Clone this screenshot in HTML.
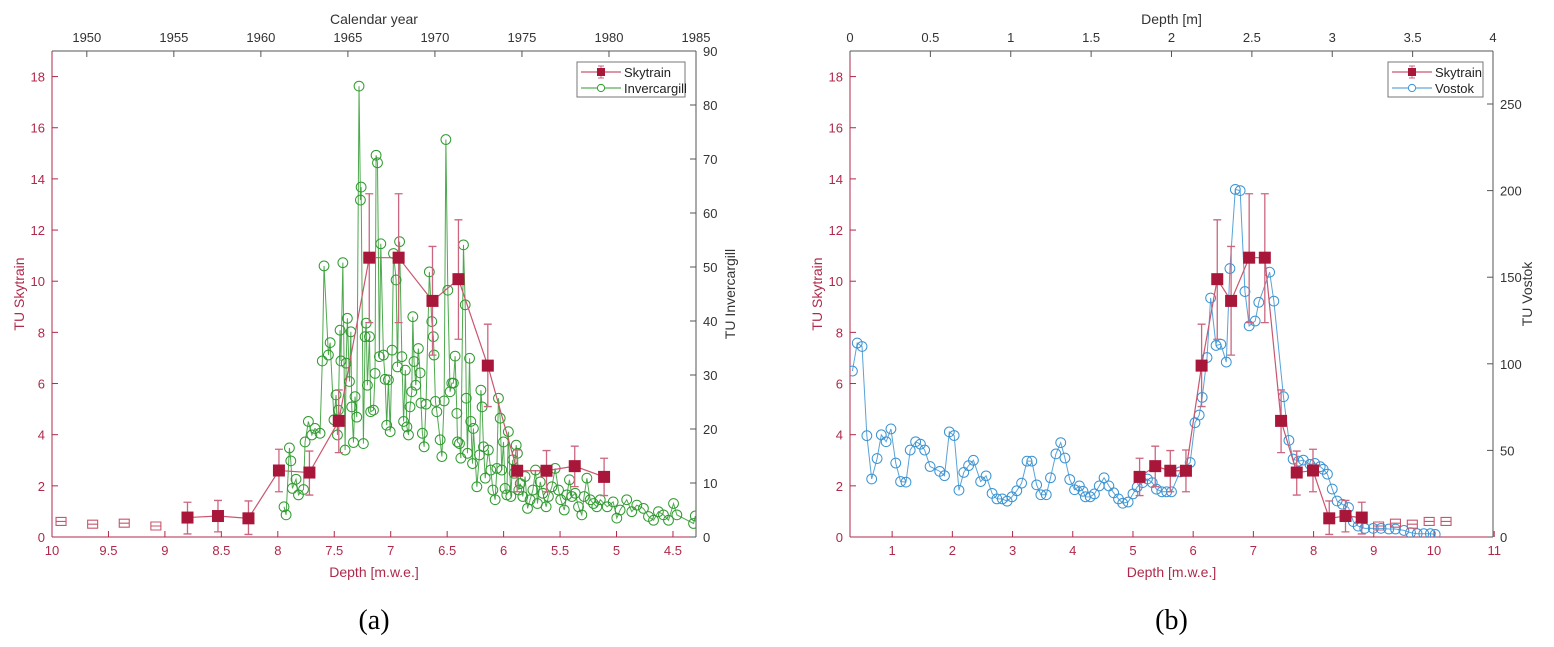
<!DOCTYPE html>
<html><head><meta charset="utf-8">
<style>
html,body{margin:0;padding:0;background:#fff;}
svg{display:block;}
text{font-family:"Liberation Sans",sans-serif;}
</style></head>
<body>
<svg id="chart" width="1554" height="647" viewBox="0 0 1554 647" xmlns="http://www.w3.org/2000/svg"></svg>
<script>
// ---------- Skytrain data (shared) ----------
const skyDepth = [5.11,5.37,5.62,5.88,6.14,6.40,6.63,6.93,7.19,7.46,7.72,7.99,8.26,8.53,8.80];
const skyValue = [2.35,2.77,2.59,2.59,6.70,10.08,9.23,10.92,10.92,4.54,2.52,2.60,0.73,0.82,0.76];
const skyErrTop = [3.08,3.55,3.38,3.40,8.32,12.4,11.36,13.42,13.42,5.75,3.36,3.43,1.41,1.43,1.36];
const skyErrBot = [1.62,1.97,1.77,1.77,5.10,7.73,7.11,8.38,8.38,3.30,1.64,1.77,0.10,0.20,0.12];
const skyHollowDepth = [9.08,9.36,9.64,9.92,10.2];
const skyHollowValue = [0.43,0.54,0.50,0.61,0.61];
// ---------- Invercargill (calendar year, TU) ----------
const invYear = [1961.33,1961.45,1961.64,1961.72,1961.81,1962.02,1962.16,1962.45,1962.54,1962.73,1962.93,1963.11,1963.40,1963.53,1963.63,1963.88,1963.98,1964.20,1964.32,1964.40,1964.45,1964.55,1964.60,1964.71,1964.84,1964.90,1964.97,1965.09,1965.17,1965.22,1965.32,1965.41,1965.51,1965.64,1965.72,1965.76,1965.89,1965.99,1966.05,1966.12,1966.24,1966.31,1966.47,1966.56,1966.62,1966.70,1966.81,1966.89,1967.04,1967.14,1967.23,1967.33,1967.43,1967.54,1967.62,1967.77,1967.85,1967.97,1968.10,1968.20,1968.30,1968.39,1968.48,1968.57,1968.67,1968.73,1968.80,1968.90,1969.05,1969.15,1969.20,1969.28,1969.38,1969.49,1969.68,1969.82,1969.91,1969.95,1970.03,1970.11,1970.30,1970.40,1970.53,1970.63,1970.74,1970.87,1970.97,1971.06,1971.16,1971.26,1971.30,1971.41,1971.49,1971.64,1971.74,1971.80,1971.87,1971.99,1972.06,1972.16,1972.21,1972.41,1972.56,1972.64,1972.71,1972.79,1972.89,1973.07,1973.21,1973.33,1973.46,1973.56,1973.65,1973.75,1973.84,1973.94,1974.03,1974.13,1974.22,1974.36,1974.47,1974.55,1974.67,1974.74,1974.82,1974.90,1975.05,1975.18,1975.32,1975.47,1975.63,1975.78,1975.89,1976.05,1976.20,1976.39,1976.52,1976.72,1976.91,1977.10,1977.23,1977.43,1977.58,1977.73,1977.87,1978.06,1978.25,1978.44,1978.57,1978.73,1978.92,1979.11,1979.30,1979.50,1979.90,1980.24,1980.45,1980.64,1981.02,1981.31,1981.60,1981.98,1982.27,1982.56,1982.84,1983.13,1983.42,1983.71,1983.90,1984.86,1984.96];
const invValue = [5.6,4.1,16.5,14.1,9.0,10.7,7.8,8.8,17.6,21.4,18.9,20.1,19.2,32.6,50.2,33.7,36.0,21.7,26.3,18.9,23.5,38.3,32.6,50.8,16.1,32.2,40.5,28.8,38.0,24.1,17.5,26.0,22.2,83.5,62.4,64.8,17.3,37.1,39.6,28.1,37.1,23.2,23.5,30.3,70.7,69.3,33.4,54.3,33.7,29.2,20.7,29.1,19.5,34.6,52.5,47.6,31.5,54.7,33.4,21.4,30.9,20.4,18.9,24.1,26.9,40.8,32.5,28.1,34.9,30.4,24.8,19.2,16.7,24.6,49.1,39.9,37.1,33.7,25.1,23.2,18.0,14.9,25.2,73.6,45.7,26.9,28.5,28.5,33.5,22.9,17.6,17.3,14.6,54.1,43.0,25.7,15.5,33.1,21.4,13.6,20.1,9.3,15.2,27.2,24.1,16.7,10.9,16.1,12.4,8.7,6.9,12.7,25.7,22.0,12.4,17.6,9.0,7.8,19.5,7.5,14.3,11.8,17.0,15.5,8.7,9.9,7.5,11.2,5.3,6.9,8.7,12.4,6.2,10.2,8.1,5.6,7.5,9.3,12.7,8.7,6.9,5.0,7.8,10.6,7.5,8.1,5.6,4.1,7.5,10.9,6.9,6.2,5.6,6.9,5.6,6.5,3.5,5.0,6.9,4.7,5.9,5.3,3.8,3.1,4.7,4.1,3.1,6.2,4.1,2.5,3.9];
// ---------- Vostok (depth m.w.e., TU Vostok) ----------
const vosDepth = [0.34,0.42,0.50,0.58,0.66,0.75,0.82,0.90,0.98,1.06,1.14,1.23,1.30,1.39,1.47,1.54,1.63,1.79,1.87,1.95,2.03,2.11,2.19,2.27,2.35,2.47,2.56,2.66,2.74,2.83,2.91,2.99,3.07,3.15,3.24,3.32,3.40,3.47,3.56,3.63,3.72,3.80,3.87,3.95,4.03,4.11,4.17,4.21,4.29,4.36,4.44,4.52,4.60,4.68,4.76,4.83,4.92,5.00,5.07,5.16,5.24,5.32,5.39,5.48,5.56,5.64,5.78,5.95,6.03,6.10,6.15,6.23,6.29,6.38,6.46,6.55,6.61,6.70,6.78,6.86,6.93,7.03,7.09,7.27,7.34,7.50,7.59,7.66,7.75,7.83,7.94,8.02,8.11,8.16,8.23,8.31,8.39,8.48,8.58,8.66,8.74,8.85,8.99,9.12,9.25,9.36,9.50,9.61,9.72,9.83,9.94,10.02];
const vosValue = [95.8,112,110,58.5,33.5,45.3,59,55,62.4,42.7,32,31.7,50.2,55,53.6,50.2,40.7,37.9,35.4,60.7,58.6,27,37.3,41.2,44.3,32,35.3,25.2,22,22,20.7,23.2,26.7,31.1,43.8,43.8,30.1,24.4,24.4,34.2,48,54.5,45.6,33.2,27.3,29.5,26.4,23.2,23.2,24.9,29.5,34.2,29.5,25.5,22,19.5,20.2,24.9,28.9,31.4,33.5,31.4,27.6,26.1,26.1,26.1,37.6,43,66,70.4,80.6,103.6,138,110.6,111.3,101,155,200.7,200,141.7,121.9,124.7,135.5,152.9,136.2,81,55.8,45,43.8,44.4,41.9,42.5,40.6,39.1,36.3,27.7,20.8,18.9,17,8.9,6.3,5,5,5,4.6,4.6,3.8,2.5,1.9,1.9,1.9,1.5];
// ---------- ticks ----------
const leftTicks = [0,2,4,6,8,10,12,14,16,18];
const aDepthTicks = [10,9.5,9,8.5,8,7.5,7,6.5,6,5.5,5,4.5];
const aYearTicks = [1950,1955,1960,1965,1970,1975,1980,1985];
const aRightTicks = [0,10,20,30,40,50,60,70,80,90];
const bDepthTicks = [1,2,3,4,5,6,7,8,9,10,11];
const bTopTicks = [0,0.5,1,1.5,2,2.5,3,3.5,4];
const bRightTicks = [0,50,100,150,200,250];

const NS = "http://www.w3.org/2000/svg";
const svg = document.getElementById('chart');
const RED = "#a8163a", REDL = "#c9566f", AX = "#b0284a", GR = "#555", GREEN = "#2f9a2f", BLUE = "#3a93d2";
function mk(tag, attrs, parent){ const e=document.createElementNS(NS,tag); for(const k in attrs) e.setAttribute(k,attrs[k]); (parent||svg).appendChild(e); return e; }
function txt(s, x, y, attrs, parent){ const t=mk('text', Object.assign({x:x,y:y,'font-size':13}, attrs), parent); t.textContent=s; return t; }
function lin(d0,d1,r0,r1){ return v => r0 + (v-d0)/(d1-d0)*(r1-r0); }

function panel(cfg){
  const g = mk('g',{});
  
  
  const L=cfg.L, R=cfg.R, T=51, B=537;
  const yL = lin(0,19,B,T);
  const xB = lin(cfg.bd0,cfg.bd1,L,R);
  const xT = lin(cfg.td0,cfg.td1,L,R);
  const yR = lin(0,cfg.rmax,B,T);
  const ax = mk('g',{},g);
  
  
  mk('line',{x1:L,y1:T,x2:R,y2:T,stroke:GR,'stroke-width':1},ax);
  mk('line',{x1:R,y1:T,x2:R,y2:B,stroke:GR,'stroke-width':1},ax);
  mk('line',{x1:L,y1:T,x2:L,y2:B,stroke:AX,'stroke-width':1},ax);
  mk('line',{x1:L,y1:B,x2:R,y2:B,stroke:AX,'stroke-width':1},ax);
  leftTicks.forEach(v=>{ const y=yL(v); mk('line',{x1:L,y1:y,x2:L+6,y2:y,stroke:AX},ax);
    const t=txt(String(v),L-7,y+5,{fill:AX,'text-anchor':'end'},ax);
      });
  cfg.bTicks.forEach(v=>{ const x=xB(v); mk('line',{x1:x,y1:B,x2:x,y2:B-6,stroke:AX},ax);
    const t=txt(String(v),x,B+18,{fill:AX,'text-anchor':'middle'},ax);
      });
  cfg.tTicks.forEach(v=>{ const x=xT(v); mk('line',{x1:x,y1:T,x2:x,y2:T+6,stroke:GR},ax);
    const t=txt(String(v),x,T-9,{fill:'#333','text-anchor':'middle'},ax);
      });
  cfg.rTicks.forEach(v=>{ const y=yR(v); mk('line',{x1:R,y1:y,x2:R-6,y2:y,stroke:GR},ax);
    const t=txt(String(v),R+7,y+5,{fill:'#333'},ax);
      });
  const tl=txt('TU Skytrain',0,0,{fill:AX,'font-size':14,'text-anchor':'middle',transform:`translate(${L-28},294) rotate(-90)`},g);
   
  const tr=txt(cfg.rTitle,0,0,{fill:'#333','font-size':14,'text-anchor':'middle',transform:`translate(${R+39},294) rotate(-90)`},g);
   
  const tb=txt('Depth [m.w.e.]',(L+R)/2,577,{fill:AX,'font-size':14,'text-anchor':'middle'},g);
   
  const tt=txt(cfg.tTitle,(L+R)/2,24,{fill:'#333','font-size':14,'text-anchor':'middle'},g);
   
  const cap=txt(cfg.caption,(L+R)/2,629,{fill:'#000','text-anchor':'middle',style:'font-family:"Liberation Serif",serif;font-size:28px'},g);
   

  const cid='clip'+cfg.name;
  const cp=mk('clipPath',{id:cid},g); mk('rect',{x:L,y:T,width:R-L,height:B-T},cp);
  const plot=mk('g',{'clip-path':`url(#${cid})`},g);

  const sx = cfg.secX, sy = cfg.secY;
  const pts = sx.map((v,i)=>[cfg.secXScale==='top'?xT(v):xB(v), yR(sy[i])]);
  const sl = mk('polyline',{points:pts.map(p=>p.join(',')).join(' '),fill:'none',stroke:cfg.secColor,'stroke-width':1,'stroke-opacity':0.85},plot);
   
  pts.forEach(p=>{ const c=mk('circle',{cx:p[0],cy:p[1],r:4.9,fill:'none',stroke:cfg.secColor,'stroke-width':1},plot);
      });

  const sp = skyDepth.map((d,i)=>[xB(d), yL(skyValue[i])]);
  const skl = mk('polyline',{points:sp.map(p=>p.join(',')).join(' '),fill:'none',stroke:REDL,'stroke-width':1.2},plot);
   
  skyDepth.forEach((d,i)=>{ const x=xB(d), y1=yL(skyErrTop[i]), y2=yL(skyErrBot[i]);
    const e=mk('path',{d:`M${x},${y1}V${y2}M${x-4},${y1}H${x+4}M${x-4},${y2}H${x+4}`,stroke:'#cc6680','stroke-width':1.3,fill:'none'},plot);
      });
  sp.forEach(p=>{ const r=mk('rect',{x:p[0]-6,y:p[1]-6,width:12,height:12,fill:RED},plot);
      });
  skyHollowDepth.forEach((d,i)=>{ const x=xB(d), y=yL(skyHollowValue[i]);
    const h=mk('path',{d:`M${x-5},${y-4}h10v8h-10zM${x-5},${y}h10`,fill:'none',stroke:REDL,'stroke-width':1.1},plot);
      });

  const lg=mk('g',{},g);
   
  const lx=cfg.legX, lw=cfg.legW;
  mk('rect',{x:lx,y:62,width:lw,height:35,fill:'#fff',stroke:'#777','stroke-width':1},lg);
  mk('line',{x1:lx+4,y1:72,x2:lx+44,y2:72,stroke:REDL,'stroke-width':1.2},lg);
  mk('path',{d:`M${lx+24},66V78M${lx+21},66h6M${lx+21},78h6`,stroke:'#cc6680',fill:'none'},lg);
  mk('rect',{x:lx+20,y:68,width:8,height:8,fill:RED},lg);
  const e1=txt('Skytrain',lx+47,77,{'font-size':13,fill:'#222'},lg);
   
  mk('line',{x1:lx+4,y1:88,x2:lx+44,y2:88,stroke:cfg.secColor,'stroke-width':1},lg);
  mk('circle',{cx:lx+24,cy:88,r:3.6,fill:'#fff',stroke:cfg.secColor},lg);
  const e2=txt(cfg.secLabel,lx+47,93,{'font-size':13,fill:'#222'},lg);
   
}

panel({name:'panel-a', L:52, R:696, bd0:10, bd1:4.296, td0:1948, td1:1985, rmax:90,
  bTicks:aDepthTicks, tTicks:aYearTicks, rTicks:aRightTicks, rTitle:'TU Invercargill', tTitle:'Calendar year',
  caption:'(a)', secX:invYear, secY:invValue, secXScale:'top', secColor:GREEN, secName:'invercargill', secLabel:'Invercargill',
  legX:577, legW:108});
panel({name:'panel-b', L:850, R:1493, bd0:0.3, bd1:10.98, td0:0, td1:4, rmax:280.6,
  bTicks:bDepthTicks, tTicks:bTopTicks, rTicks:bRightTicks, rTitle:'TU Vostok', tTitle:'Depth [m]',
  caption:'(b)', secX:vosDepth, secY:vosValue, secXScale:'bottom', secColor:BLUE, secName:'vostok', secLabel:'Vostok',
  legX:1388, legW:95});
</script>
</body></html>
